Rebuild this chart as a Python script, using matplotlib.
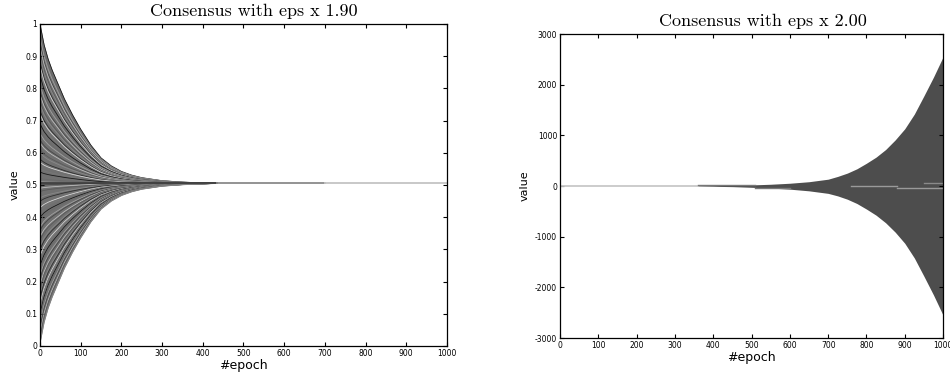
import numpy as np
import matplotlib
matplotlib.use("Agg")
import matplotlib.pyplot as plt

# ---- left panel: eps x 1.90 (converging) ----
conv_center = 0.505
# relative spread of trajectories around the consensus value
decay_epochs = [0, 10, 20, 30, 40, 50, 60, 80, 100, 125, 150, 175, 200, 225, 250, 300, 350, 400, 435]
decay_ratio = [1.0, 0.87, 0.78, 0.71, 0.65, 0.59, 0.53, 0.43, 0.34, 0.24, 0.16, 0.11, 0.075,
               0.052, 0.036, 0.017, 0.008, 0.003, 0.0]
# starting values of the node trajectories
start_values = [1.0, 0.98, 0.96, 0.94, 0.93, 0.91, 0.9, 0.88, 0.87, 0.85, 0.84, 0.82, 0.81,
                0.79, 0.78, 0.76, 0.75, 0.73, 0.72, 0.7, 0.69, 0.67, 0.66, 0.64, 0.63,
                0.61, 0.6, 0.58, 0.57, 0.55, 0.54, 0.52, 0.51, 0.5, 0.49, 0.48, 0.46,
                0.45, 0.43, 0.42, 0.4, 0.39, 0.37, 0.36, 0.34, 0.33, 0.31, 0.3, 0.28,
                0.27, 0.25, 0.24, 0.22, 0.21, 0.19, 0.18, 0.16, 0.15, 0.13, 0.12, 0.1,
                0.09, 0.07, 0.06, 0.04, 0.03, 0.01]
line_greys = ['#1a1a1a', '#6a6a6a', '#a0a0a0', '#474747', '#bcbcbc', '#5a5a5a', '#888888',
              '#2e2e2e', '#d6d6d6', '#777777']
# converged tail segments (epoch start, end, colour)
tail_segments = [(435, 700, '#8a8a8a'), (700, 1000, '#c4c4c4')]

# ---- right panel: eps x 2.00 (diverging oscillation) ----
grow_epochs = [360, 400, 450, 500, 550, 600, 650, 700, 725, 750, 775, 800, 825, 850, 875,
               900, 925, 950, 975, 1000]
grow_upper = [5, 8, 14, 22, 35, 55, 85, 135, 190, 255, 340, 450, 570, 720, 910,
              1130, 1420, 1780, 2150, 2550]
grow_lower = [-3, -6, -12, -25, -40, -62, -95, -145, -195, -260, -345, -455, -575, -725,
              -910, -1130, -1420, -1780, -2150, -2550]
flat_epochs = [0, 360]
flat_values = [0, 0]
inner_lines = [([360, 510], [20, 20], '#777777'), ([510, 600], [-30, -30], '#777777'),
               ([760, 880], [10, 10], '#9a9a9a'), ([880, 1000], [-30, -30], '#9a9a9a'),
               ([950, 1000], [50, 50], '#8a8a8a')]

fig = plt.figure(figsize=(9.5, 3.76), dpi=100)


def style_axes(ax):
    ax.tick_params(direction='in', top=True, right=True, length=3, width=0.8, pad=2,
                   labelsize=5.5)
    for s in ax.spines.values():
        s.set_linewidth(0.9)
    ax.set_xlabel('#epoch', fontsize=9, labelpad=1)
    ax.set_ylabel('value', fontsize=8, labelpad=4)


ax1 = fig.add_axes([0.0421, 0.0798, 0.4284, 0.8564])
ep = np.array(decay_epochs)
ratio = np.array(decay_ratio)
upper = conv_center + (max(start_values) - conv_center) * ratio
lower = conv_center + (min(start_values) - conv_center) * ratio
ax1.fill_between(ep, lower, upper, color='#707070', linewidth=0)
for i, s in enumerate(start_values):
    vals = conv_center + (s - conv_center) * ratio
    ax1.plot(ep, vals, color=line_greys[i % len(line_greys)], linewidth=0.6)
ax1.plot([0, 435], [conv_center, conv_center], color='#3a3a3a', linewidth=1.2)
for a, b, c in tail_segments:
    ax1.plot([a, b], [conv_center, conv_center], color=c, linewidth=1.3)
ax1.set_xlim(0, 1000)
ax1.set_ylim(0, 1)
ax1.set_xticks(np.arange(0, 1001, 100))
ax1.set_yticks(np.arange(0, 1.01, 0.1))
ax1.set_yticklabels(['0', '0.1', '0.2', '0.3', '0.4', '0.5', '0.6', '0.7', '0.8', '0.9', '1'])
style_axes(ax1)
ax1.set_title('Consensus with eps x 1.90', fontsize=13, family='cmr10', pad=6, x=0.525)

ax2 = fig.add_axes([0.5895, 0.101, 0.4032, 0.8085])
ax2.plot(flat_epochs, flat_values, color='#c8c8c8', linewidth=1.3)
ax2.fill_between(grow_epochs, grow_lower, grow_upper, color='#4d4d4d', linewidth=0)
for xs, ys, c in inner_lines:
    ax2.plot(xs, ys, color=c, linewidth=1.0)
ax2.set_xlim(0, 1000)
ax2.set_ylim(-3000, 3000)
ax2.set_xticks(np.arange(0, 1001, 100))
ax2.set_yticks(np.arange(-3000, 3001, 1000))
ax2.set_yticklabels(['-3000', '-2000', '-1000', '0', '1000', '2000', '3000'])
style_axes(ax2)
ax2.set_title('Consensus with eps x 2.00', fontsize=13, family='cmr10', pad=6, x=0.53)

fig.savefig('out.png', dpi=100)
